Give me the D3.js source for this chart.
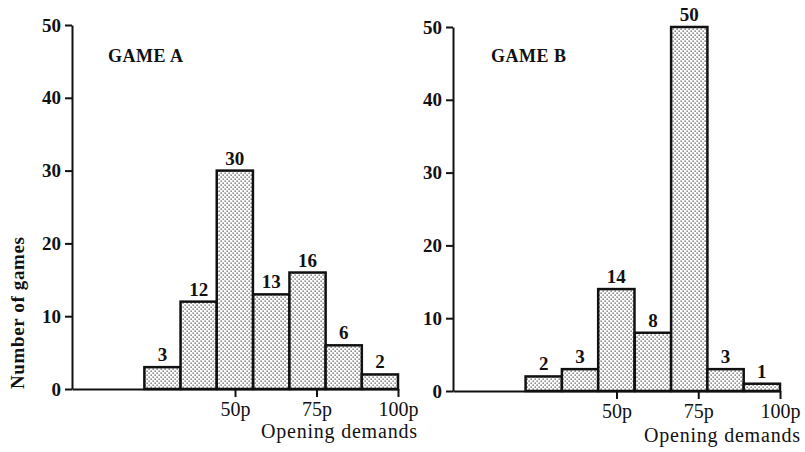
<!DOCTYPE html>
<html>
<head>
<meta charset="utf-8">
<script src="https://cdn.jsdelivr.net/npm/d3@7"></script>
<style>
  body { margin: 0; background: #fff; }
  svg { display: block; }
  text { font-family: "Liberation Serif", "DejaVu Serif", serif; fill: #111; }
</style>
</head>
<body>
<div id="chart"></div>
<script>
// bin lower edges (pence), each bin is 1/9 of 100p wide
var binLow = [22.2, 33.3, 44.4, 55.6, 66.7, 77.8, 88.9]
var binWidth = 11.1
var gameA = [3, 12, 30, 13, 16, 6, 2]
var gameB = [2, 3, 14, 8, 50, 3, 1]
var xTicks = [50, 75, 100]
var xTickLabels = ["50p", "75p", "100p"]
var yTicks = [0, 10, 20, 30, 40, 50]
var panelTitles = ["GAME A", "GAME B"]

var svg = d3.select("#chart").append("svg")
    .attr("width", 805)
    .attr("height", 452)

var defs = svg.append("defs")
var pat = defs.append("pattern")
    .attr("id", "dots")
    .attr("patternUnits", "userSpaceOnUse")
    .attr("width", 4)
    .attr("height", 4)
pat.append("rect").attr("width", 4).attr("height", 4).attr("fill", "#fff")
pat.append("rect").attr("x", 0.5).attr("y", 0.5).attr("width", 1.3).attr("height", 1.3).attr("fill", "#555")
pat.append("rect").attr("x", 2.5).attr("y", 2.5).attr("width", 1.3).attr("height", 1.3).attr("fill", "#555")

// panel layout: x range for 0..100p, y range for 0..50
var panels = [
    { data: gameA, x0: 72, x1: 398, y0: 389, y1: 25, title: panelTitles[0], tx: 108, xlab: 417, xlabY: 438 },
    { data: gameB, x0: 453, x1: 780, y0: 391, y1: 27, title: panelTitles[1], tx: 491, xlab: 800, xlabY: 442 }
]

panels.forEach(function (p) {
    var x = d3.scaleLinear().domain([0, 100]).range([p.x0, p.x1])
    var y = d3.scaleLinear().domain([0, 50]).range([p.y0, p.y1])

    // bars
    var g = svg.append("g")
    g.selectAll("rect")
        .data(p.data)
        .join("rect")
        .attr("x", (d, i) => x(binLow[i]))
        .attr("y", d => y(d))
        .attr("width", (d, i) => x(binLow[i] + binWidth) - x(binLow[i]))
        .attr("height", d => y(0) - y(d))
        .attr("fill", "url(#dots)")
        .attr("stroke", "#111")
        .attr("stroke-width", 2.5)

    g.selectAll("text.val")
        .data(p.data)
        .join("text")
        .attr("class", "val")
        .attr("x", (d, i) => x(binLow[i] + binWidth / 2))
        .attr("y", d => y(d) - 6)
        .attr("text-anchor", "middle")
        .style("font-size", "19px")
        .style("font-weight", "bold")
        .text(d => d)

    // y axis
    var ya = svg.append("g")
        .attr("transform", `translate(${p.x0},0)`)
        .call(d3.axisLeft(y).tickValues(yTicks).tickSize(7).tickSizeOuter(0).tickPadding(4))
    ya.select(".domain").attr("stroke", "#111").attr("stroke-width", 2)
    ya.selectAll(".tick line").attr("stroke", "#111").attr("stroke-width", 2)
    ya.selectAll(".tick text")
        .style("font-family", "Liberation Serif, serif")
        .style("font-size", "19px")
        .style("font-weight", "bold")
        .attr("fill", "#111")

    // x axis
    var xa = svg.append("g")
        .attr("transform", `translate(0,${p.y0})`)
        .call(d3.axisBottom(x).tickValues(xTicks).tickFormat((d, i) => xTickLabels[i])
            .tickSize(8).tickSizeOuter(0).tickPadding(5))
    xa.select(".domain").attr("stroke", "#111").attr("stroke-width", 2)
    xa.selectAll(".tick line").attr("stroke", "#111").attr("stroke-width", 2)
    xa.selectAll(".tick text")
        .style("font-family", "Liberation Serif, serif")
        .style("font-size", "20px")
        .attr("fill", "#111")

    svg.append("text")
        .attr("x", p.xlab)
        .attr("y", p.xlabY)
        .attr("text-anchor", "end")
        .attr("textLength", 156)
        .style("font-size", "20px")
        .text("Opening demands")

    svg.append("text")
        .attr("x", p.tx)
        .attr("y", 62)
        .attr("textLength", 75)
        .style("font-size", "18px")
        .style("font-weight", "bold")
        .text(p.title)
})

svg.append("text")
    .attr("transform", "translate(24,313) rotate(-90)")
    .attr("text-anchor", "middle")
    .attr("textLength", 152)
    .style("font-size", "19px")
    .style("font-weight", "bold")
    .text("Number of games")
</script>
</body>
</html>
